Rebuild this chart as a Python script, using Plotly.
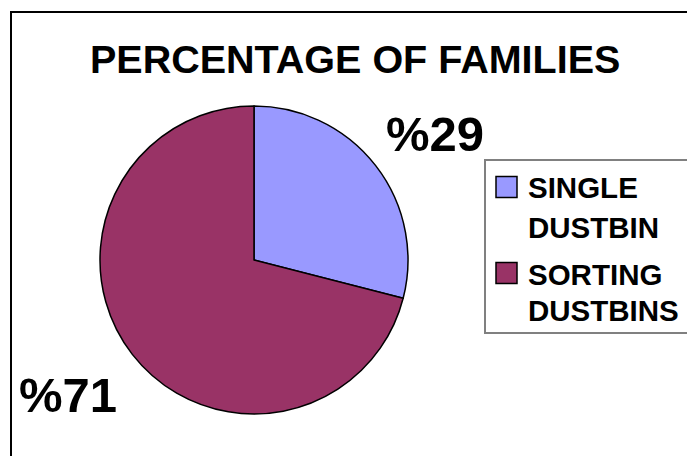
import plotly.graph_objects as go

# ---- data ----
categories = ["SINGLE DUSTBIN", "SORTING DUSTBINS"]
values = [29, 71]
colors = ["#9999FF", "#993366"]
title_text = "PERCENTAGE OF FAMILIES"

W, H = 695, 456
OFF = 8  # page body margin
FONT = "Liberation Sans, Arial, sans-serif"


def px(x):
    return (x - OFF) / W


def py(y):
    return 1 - (y - OFF) / H


fig = go.Figure()

# pie centre (254, 260), radius ~154 (window pixels)
cx, cy, r = 254, 260, 154
fig.add_trace(go.Pie(
    labels=categories,
    values=values,
    marker=dict(colors=colors, line=dict(color="black", width=1.5)),
    sort=False,
    direction="clockwise",
    rotation=0,
    textinfo="none",
    hoverinfo="label+percent",
    showlegend=False,
    domain=dict(x=[px(cx - r), px(cx + r)], y=[py(cy + r), py(cy - r)]),
))

annotations = []
shapes = []

# title
annotations.append(dict(
    text=title_text, x=px(355), y=py(59), xref="paper", yref="paper",
    xanchor="center", yanchor="middle", showarrow=False,
    font=dict(family=FONT, size=39.5, color="black", weight="bold"),
))

# percentage labels
label_pos = [(435, 134), (68, 395)]
for v, (lx, ly) in zip(values, label_pos):
    annotations.append(dict(
        text="%" + str(v), x=px(lx), y=py(ly), xref="paper", yref="paper",
        xanchor="center", yanchor="middle", showarrow=False,
        font=dict(family=FONT, size=49, color="black", weight="bold"),
    ))

# outer frame
shapes.append(dict(type="rect", xref="paper", yref="paper",
                   x0=px(11), x1=px(720), y0=py(480), y1=py(12),
                   line=dict(color="black", width=2), fillcolor="rgba(0,0,0,0)"))

# legend box
shapes.append(dict(type="rect", xref="paper", yref="paper",
                   x0=px(485), x1=px(720), y0=py(333), y1=py(160),
                   line=dict(color="#808080", width=2), fillcolor="rgba(0,0,0,0)"))

# legend entries
entry_lines_y = [(187.5, 227), (274, 310)]
square_y = [187, 273]
for cat, col, (y1, y2), sy in zip(categories, colors, entry_lines_y, square_y):
    shapes.append(dict(type="rect", xref="paper", yref="paper",
                       x0=px(496), x1=px(517), y0=py(sy + 10.5), y1=py(sy - 10.5),
                       line=dict(color="black", width=1.5), fillcolor=col))
    words = cat.split(" ")
    for word, ly in zip(words, (y1, y2)):
        annotations.append(dict(
            text=word, x=px(526), y=py(ly), xref="paper", yref="paper",
            xanchor="left", yanchor="middle", showarrow=False,
            font=dict(family=FONT, size=29.5, color="black", weight="bold"),
        ))

fig.update_layout(
    width=W, height=H,
    margin=dict(l=0, r=0, t=0, b=0),
    paper_bgcolor="white",
    plot_bgcolor="white",
    annotations=annotations,
    shapes=shapes,
    showlegend=False,
)

fig.write_html("out.html")
